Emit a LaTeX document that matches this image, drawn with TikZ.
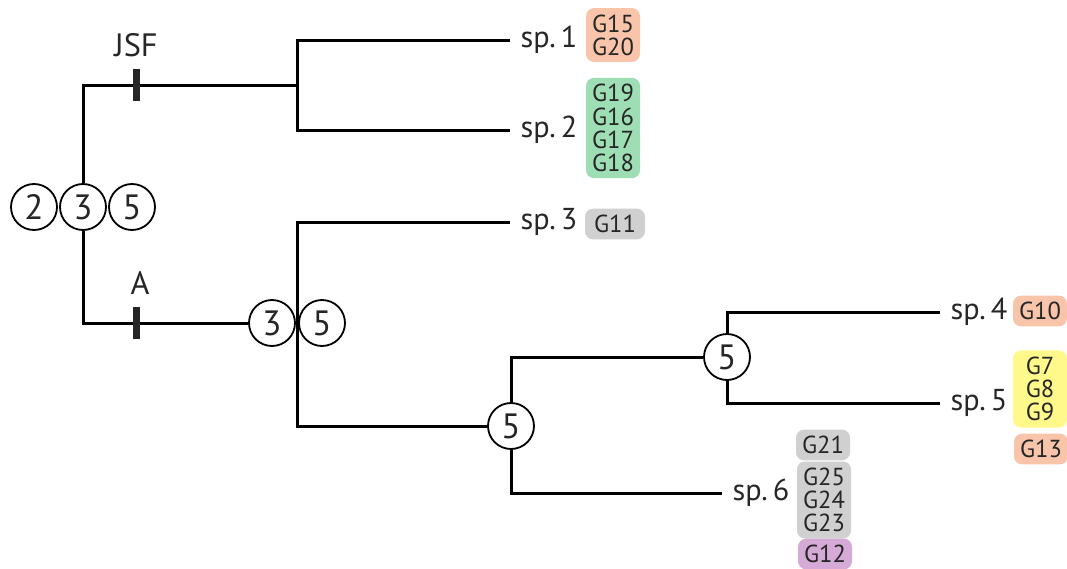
\documentclass[tikz,border=0pt]{standalone}
\usepackage{fontspec}
\setmainfont{PT Sans}
\usetikzlibrary{positioning}
\definecolor{salmon}{RGB}{248,196,170}
\definecolor{mint}{RGB}{158,222,180}
\definecolor{greybox}{RGB}{208,208,208}
\definecolor{lemon}{RGB}{255,249,140}
\definecolor{lilac}{RGB}{214,170,214}
\begin{document}
\begin{tikzpicture}[x=0.25mm,y=-0.25mm,
  edge/.style={line width=0.75mm},
  num/.style={circle,draw,fill=white,line width=0.45mm,minimum size=11.5mm,inner sep=0pt,font=\fontsize{25}{25}\selectfont,text=black!85},
  tickmark/.style={fill=black!85,minimum width=1.75mm,minimum height=8mm,inner sep=0pt},
  lab/.style={font=\fontsize{23}{23}\selectfont,text=black!85,inner sep=0pt},
  sp/.style={anchor=west,inner xsep=2.6mm,inner ysep=0pt,font=\fontsize{21.5}{21.5}\selectfont,text=black!85},
  gene/.style={rounded corners=2mm,inner xsep=0pt,inner ysep=1.6mm,minimum width=13.5mm,align=center,font=\fontsize{17.5}{16.5}\selectfont,text=black!85}]
 \useasboundingbox (0,0) rectangle (1067,569);
 % root
 \node[num] (r2) at (34,207) {2};
 \node[num] (r3) at (83,207) {3};
 \node[num] (r5) at (132,207) {5};
 \node[num] (a3) at (272,323) {3};
 \node[num] (a5) at (322,323) {5};
 \node[num] (c5) at (511,426) {5};
 \node[num] (d5) at (727,357) {5};
 \coordinate (n1) at (297,85);
 \coordinate (n2) at (297,323);
 % tips
 \node[sp] (sp1) at (510,40) {sp.\,1};
 \node[sp] (sp2) at (510,130) {sp.\,2};
 \node[sp] (sp3) at (510,222) {sp.\,3};
 \node[sp] (sp4) at (940,312) {sp.\,4};
 \node[sp] (sp5) at (940,403) {sp.\,5};
 \node[sp] (sp6) at (722,493) {sp.\,6};
 \draw[edge] (r3.north) |- (n1);
 \draw[edge] (r3.south) |- (a3.west);
 \draw[edge] (sp1.west) -| (n1) |- (sp2.west);
 \draw[edge] (sp3.west) -| (n2) |- (c5.west);
 \draw[edge] (c5.north) |- (d5.west);
 \draw[edge] (c5.south) |- (sp6.west);
 \draw[edge] (sp4.west) -| (d5.north);
 \draw[edge] (sp5.west) -| (d5.south);
 % apomorphies
 \node[tickmark] (jsf) at (136,85) {};
 \node[lab,above=3mm of jsf] {JSF};
 \node[tickmark] (apo) at (136,323) {};
 \node[lab,above=3mm of apo,xshift=1mm] {A};
 % genes
 \node[gene,fill=salmon] (g1) at (613,35) {G15\\G20};
 \node[gene,fill=mint] (g2) at (613,128) {G19\\G16\\G17\\G18};
 \node[gene,fill=greybox,minimum width=15mm] (g3) at (615,224) {G11};
 \node[gene,fill=salmon] (g4) at (1040,311) {G10};
 \node[gene,fill=lemon] (g5) at (1040,389) {G7\\G8\\G9};
 \node[gene,fill=salmon] (g6) at (1041,449) {G13};
 \node[gene,fill=greybox] (g7) at (823,445) {G21};
 \node[gene,fill=greybox] (g8) at (824,500) {G25\\G24\\G23};
 \node[gene,fill=lilac] (g9) at (825,554) {G12};
\end{tikzpicture}
\end{document}
